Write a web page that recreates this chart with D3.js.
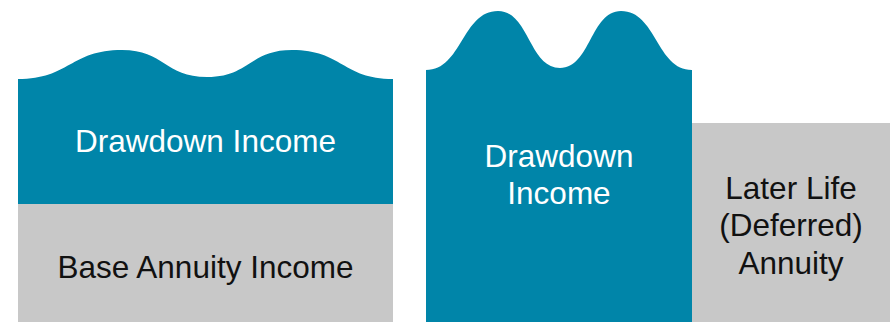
<!DOCTYPE html>
<html>
<head>
<meta charset="utf-8">
<script src="https://cdn.jsdelivr.net/npm/d3@7"></script>
<style>
  html, body { margin: 0; padding: 0; background: #ffffff; }
  svg { display: block; }
  text { font-family: "Liberation Sans", Arial, Helvetica, sans-serif; }
</style>
</head>
<body>
<svg id="chart" width="895" height="323"></svg>
<script>
// Income layers: each block spans a period [start, end] and an income band [low, high]
const blockLabels = ["Base Annuity Income", "Drawdown Income", "Drawdown\nIncome", "Later Life\n(Deferred)\nAnnuity"];
const blockKind   = ["annuity", "drawdown", "drawdown", "annuity"];
const blockStart  = [18, 18, 426, 692];
const blockEnd    = [393, 393, 692, 890];
const blockLow    = [0, 118, 0, 0];
const blockHigh   = [118, 243, 252, 199];
// income level at which each label sits
const labelLevel  = [55, 181, 148, 97];

// Variable drawdown income: turning points of the wavy top of each drawdown block
const waveLeftX  = [18, 122, 207, 292, 393];
const waveLeftY  = [243, 272, 245, 272, 243];
const waveRightX = [426, 498, 560, 621, 692];
const waveRightY = [252, 311, 254, 311, 252];

const width = 895, height = 323;
const x = d3.scaleLinear().domain([0, 895]).range([0, width]);
const y = d3.scaleLinear().domain([0, 322]).range([322, 0]);

const colour = { drawdown: "#0085a9", annuity: "#c8c8c8" };
const textColour = { drawdown: "#ffffff", annuity: "#111111" };

const svg = d3.select("#chart");

const blocks = blockLabels.map((label, i) => ({
  label, kind: blockKind[i], start: blockStart[i], end: blockEnd[i],
  low: blockLow[i], high: blockHigh[i], level: labelLevel[i]
}));

const waves = [
  { block: 1, pts: waveLeftX.map((v, i) => [v, waveLeftY[i]]) },
  { block: 2, pts: waveRightX.map((v, i) => [v, waveRightY[i]]) }
];

// blocks: drawdown blocks get a wavy top, annuity blocks are flat rectangles
blocks.forEach((b, i) => {
  const w = waves.find(w => w.block === i);
  if (w) {
    const area = d3.area()
      .x(d => x(d[0]))
      .y0(y(b.low))
      .y1(d => y(d[1]))
      .curve(d3.curveBumpX);
    svg.append("path")
      .datum(w.pts)
      .attr("d", area)
      .attr("fill", colour[b.kind]);
  } else {
    svg.append("rect")
      .attr("x", x(b.start))
      .attr("y", y(b.high))
      .attr("width", x(b.end) - x(b.start))
      .attr("height", y(b.low) - y(b.high))
      .attr("fill", colour[b.kind]);
  }
});

// labels
const fontSize = 31.5, lineH = 37.5, capHalf = 0.716 * fontSize / 2;
blocks.forEach(b => {
  const lines = b.label.split("\n");
  const cx = x((b.start + b.end) / 2);
  const cy = y(b.level);
  const t = svg.append("text")
    .attr("text-anchor", "middle")
    .attr("font-size", fontSize)
    .attr("fill", textColour[b.kind]);
  lines.forEach((ln, k) => {
    t.append("tspan")
      .attr("x", cx)
      .attr("y", cy - (lines.length - 1) * lineH / 2 + capHalf + k * lineH)
      .text(ln);
  });
});
</script>
</body>
</html>
